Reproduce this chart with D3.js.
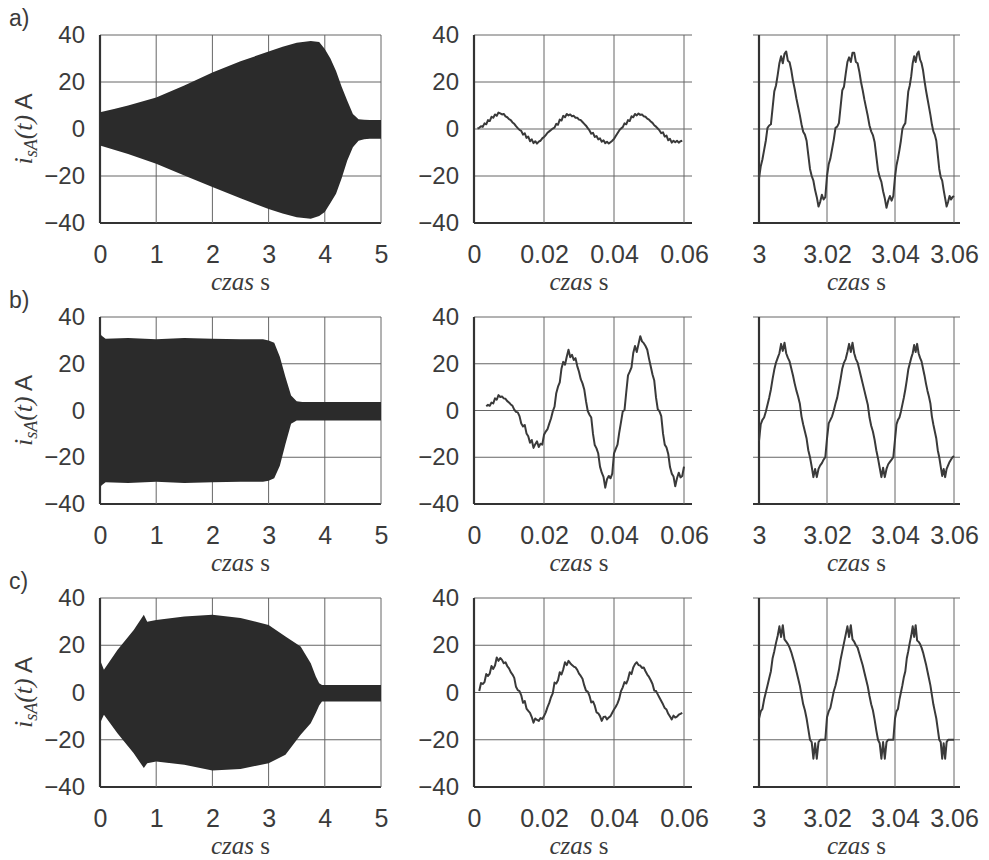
<!DOCTYPE html>
<html>
<head>
<meta charset="utf-8">
<script src="https://cdn.jsdelivr.net/npm/d3@7"></script>
<style>
  body { margin: 0; background: #fff; }
</style>
</head>
<body>
<script>
// ---- data ----
var panelLabels = ["a)", "b)", "c)"];
var yTicks = [-40, -20, 0, 20, 40];
var xTicksEnv = [0, 1, 2, 3, 4, 5];
var xTicksStart = [0, 0.02, 0.04, 0.06];
var xTicksLate = [3, 3.02, 3.04, 3.06];

// envelopes of the 0..5 s runs (time s, upper A, lower A)
var envTimeA = [0, 0.25, 0.5, 1, 1.5, 2, 2.5, 3, 3.25, 3.5, 3.75, 3.9, 4.0, 4.1, 4.2, 4.3, 4.4, 4.5, 4.6, 4.7, 4.8, 5];
var envUpA   = [7.1, 8.5, 10, 13.4, 18.5, 24, 28.8, 33, 35, 36.7, 37.5, 37, 34, 30, 24.7, 18, 12, 6.4, 4.2, 3.9, 3.8, 3.8];
var envLoA   = [-7, -8.8, -10.6, -14.8, -19.8, -24.7, -29.5, -34, -36, -37.5, -38.2, -37, -35.3, -31.5, -27.6, -21, -13.4, -7.8, -5, -4.4, -4.2, -4.2];

var envTimeB = [0, 0.03, 0.1, 0.5, 1, 1.5, 2, 2.5, 2.9, 3.0, 3.1, 3.2, 3.3, 3.4, 3.5, 3.6, 4, 5];
var envUpB   = [33, 32, 30.7, 31, 30.5, 31, 30.7, 30.5, 30.5, 30, 29, 23, 14.3, 6.4, 4, 3.6, 3.6, 3.6];
var envLoB   = [-33, -32, -30.7, -31, -30.5, -31, -30.7, -30.5, -30.5, -30, -29, -23.6, -14.3, -5.7, -4.3, -4.3, -4.3, -4.3];

var envTimeC = [0, 0.07, 0.31, 0.6, 0.78, 0.84, 1.0, 1.5, 2.0, 2.5, 3.0, 3.3, 3.57, 3.75, 3.84, 3.9, 3.95, 5];
var envUpC   = [13.8, 9.6, 18, 26.5, 32.9, 30, 30.7, 32.2, 32.9, 31.5, 28.6, 23.7, 19.5, 12.4, 6.8, 3.9, 3.2, 3.2];
var envLoC   = [-13, -9.4, -17.2, -25.7, -32, -29.9, -29.2, -30.6, -33, -32.4, -29.9, -26.4, -17.9, -13, -8.7, -5.5, -3.8, -3.8];

// waveforms sampled every 0.5 ms, first 60 ms (null = no trace)
var sampleStep = 0.0005;
var startA = [
  null, null, 0.2, 0.5, 1.2, 0.9, 2.4, 2.0, 3.8, 3.4,
  5.2, 4.8, 6.2, 5.6, 7.0, 6.6, 6.2, 6.4, 5.4, 5.0,
  4.2, 3.8, 2.8, 2.2, 1.2, 0.4, -0.4, -0.8, -2.4, -1.8,
  -3.8, -3.2, -5.2, -4.4, -6.0, -5.2, -6.2, -5.4, -5.0, -4.0,
  -3.4, -2.6, -1.6, -1.0, -0.4, 0.2, 0.6, 2.2, 1.8, 4.0,
  3.6, 5.6, 5.0, 6.4, 5.8, 6.2, 5.4, 5.6, 4.8, 4.8,
  4.0, 3.8, 3.0, 2.2, 1.4, 0.4, -0.6, -2.0, -1.6, -3.4,
  -3.0, -4.4, -4.0, -5.4, -4.8, -6.0, -5.4, -6.2, -5.6, -5.0,
  -4.2, -3.0, -1.8, -0.6, 0.2, 0.8, 2.4, 2.0, 3.8, 3.4,
  5.4, 5.0, 6.4, 5.8, 6.6, 6.0, 6.2, 5.4, 5.2, 4.4,
  4.0, 3.2, 2.6, 1.6, 1.0, 0.2, -0.6, -1.8, -1.4, -3.2,
  -2.8, -4.8, -4.2, -5.8, -5.0, -5.6, -5.0, -5.8, -5.2, -5.0
];
var startB = [
  null, null, null, null, null, null, null, 1.8, 2.4, 2.0,
  3.4, 3.0, 5.2, 4.6, 6.6, 5.8, 6.0, 5.2, 5.0, 4.0,
  3.4, 2.6, 2.0, 0.4, -0.6, -0.8, -2.4, -5.6, -6.8, -6.2,
  -9.8, -11.0, -13.8, -12.6, -16.0, -14.4, -13.2, -15.6, -14.2, -14.6,
  -10.4, -9.0, -8.0, -5.6, -3.4, -0.4, 1.6, 7.4, 10.2, 12.0,
  18.0, 20.8, 19.6, 23.0, 26.0, 22.8, 23.8, 21.6, 22.4, 19.0,
  16.6, 13.4, 11.6, 9.0, 4.0, -0.2, -1.8, -3.0, -10.0, -14.8,
  -16.2, -18.4, -24.0, -26.6, -28.4, -33.0, -29.4, -28.0, -29.0, -27.0,
  -18.4, -16.4, -14.6, -9.4, -5.0, -0.4, 0.2, 7.8, 15.0, 16.6,
  18.4, 24.6, 27.6, 25.0, 28.4, 31.8, 29.6, 28.8, 27.6, 26.0,
  22.2, 18.8, 15.4, 12.8, 5.6, 0.6, -0.4, -2.4, -9.8, -14.6,
  -15.8, -18.6, -24.2, -27.0, -28.2, -32.4, -29.0, -26.6, -28.6, -28.0,
  -24.0
];
var startC = [
  null, null, null, 0.6, 4.0, 3.6, 4.4, 7.8, 7.0, 8.0,
  11.2, 10.0, 11.4, 14.8, 13.4, 14.6, 13.8, 12.4, 12.8, 11.2,
  10.2, 8.6, 7.6, 6.2, 2.4, 1.0, 0.6, -1.2, -4.4, -3.6,
  -6.8, -7.8, -8.6, -10.4, -12.8, -11.0, -11.6, -12.0, -10.8, -11.2,
  -10.0, -8.4, -6.2, -4.4, -2.0, -0.4, 4.2, 3.8, 5.2, 8.6,
  7.6, 9.8, 12.8, 11.6, 13.4, 12.4, 11.6, 11.0, 10.6, 9.6,
  8.0, 7.0, 5.8, 3.0, 0.8, 0.4, -1.4, -4.2, -3.8, -5.6,
  -8.4, -8.8, -10.0, -12.0, -10.4, -10.2, -11.4, -10.6, -10.0, -8.6,
  -7.2, -6.0, -4.6, -2.6, 0.6, 2.2, 4.4, 3.8, 5.6, 8.6,
  7.8, 10.6, 12.0, 12.8, 11.6, 11.4, 10.4, 10.6, 9.0, 7.6,
  6.6, 5.2, 3.6, 0.8, 0.6, -0.8, -2.2, -3.6, -5.0, -6.6,
  -7.2, -9.0, -10.2, -11.4, -9.8, -10.6, -10.2, -9.4, -9.0, -8.6
];

// waveforms sampled every 0.5 ms from t = 3 s
var lateA = [
  -21, -16, -13, -9, -5, 0.5, 1.5, 2, 9, 16,
  18.5, 23, 28, 31, 28, 32, 33, 29, 28.4, 25,
  20.5, 17, 13, 9.5, 6, 2, -1.2, -2.4, -5, -11,
  -17, -20, -22, -26, -29, -33, -31, -28, -30, -29,
  -20, -15, -12.5, -8.5, -4.5, 0.5, 1, 2.5, 9.5, 16.5,
  18, 23.5, 28.5, 30.5, 28.5, 32.5, 32.5, 28.5, 28, 24.5,
  20, 16.5, 12.5, 9, 5.5, 1.5, -1, -2.6, -5.5, -11.5,
  -17.5, -20.5, -22.5, -26.5, -29.5, -33.5, -30.5, -28.5, -30.5, -28.5,
  -20.5, -15.5, -12.5, -9, -5, 0, 1.5, 2.5, 9, 16,
  18.5, 22.5, 28, 31, 28.5, 32, 33, 29.5, 28, 25,
  20.5, 16.5, 13, 9.5, 6, 2, -1, -2.5, -5, -11,
  -17, -20.5, -22, -26, -29.5, -33, -31, -28.5, -30, -29,
  -28.5
];
var lateB = [
  -13, -6, -4, -3, -0.5, 2.5, 5.5, 9, 13.5, 17.5,
  20.5, 22.5, 24.5, 28.5, 25.5, 29, 24.5, 22.5, 21, 18,
  15, 11.5, 8.5, 6, 3, -2.5, -6, -9, -12, -17,
  -20, -24, -28.5, -25, -28.5, -25, -23.5, -22.5, -21, -20,
  -12, -5.5, -4, -2.5, 0, 3, 5.5, 9.5, 13.5, 18,
  20.5, 22, 25, 28.5, 25, 29, 24.5, 22, 20.5, 17.5,
  14.5, 11.5, 8.5, 5.5, 2.5, -3, -6.5, -9, -12.5, -17,
  -20.5, -24.5, -28.5, -24.5, -28.5, -25, -23, -22, -21, -20,
  -12.5, -6, -4, -3, -0.5, 2.5, 5.5, 9, 13, 17.5,
  20, 22.5, 24.5, 28, 25, 28.5, 24.5, 22.5, 21, 18,
  15, 11.5, 8.5, 6, 3, -2.5, -6, -9, -12, -17,
  -20, -24, -28, -25, -28.5, -25, -23.5, -22, -21, -20,
  -19.5
];
var lateC = [
  -11, -8, -7, -3, 0, 3, 6, 9, 14.5, 17.5,
  21, 24, 28, 23.5, 28.5, 22.5, 21.5, 20.5, 19, 17,
  14.5, 12, 9, 6, 3, -1, -5, -7.5, -11, -15.5,
  -20, -21, -28, -21.5, -28, -21, -20, -20, -20, -20,
  -10.5, -8, -6.5, -3, 0.5, 3, 6, 9.5, 14, 17.5,
  21, 24.5, 28, 23.5, 28.5, 22.5, 21.5, 20, 19, 16.5,
  14, 11.5, 8.5, 5.5, 2.5, -1.5, -5, -7.5, -11.5, -16,
  -20, -21.5, -28, -21, -28, -21, -20, -20, -20, -20,
  -11, -8, -7, -3, 0, 3, 6.5, 9, 14.5, 17.5,
  21, 24, 28, 23.5, 28.5, 22, 21.5, 20.5, 19, 17,
  14.5, 12, 9, 6, 3, -1, -5, -8, -11, -15.5,
  -20, -21, -28, -21.5, -28, -21, -20, -20, -20, -20,
  -20
];

var envelopes = [
  {t: envTimeA, up: envUpA, lo: envLoA},
  {t: envTimeB, up: envUpB, lo: envLoB},
  {t: envTimeC, up: envUpC, lo: envLoC}
];
var starts = [startA, startB, startC];
var lates = [lateA, lateB, lateC];

// ---- layout ----
var W = 989, H = 860;
var rows = [{y0: 35, y1: 223}, {y0: 317, y1: 504}, {y0: 598, y1: 787}];
var inkText = "#3b3b3b", inkGrid = "#666", inkAxis = "#333";
var sans = "'Liberation Sans', Arial, sans-serif";
var serif = "'Liberation Serif', 'Times New Roman', serif";

var xEnv = d3.scaleLinear().domain([0, 5]).range([100, 381]);
var xStart = d3.scaleLinear().domain([0, 0.06]).range([474, 684]);
// the scan is slightly squeezed on the right, so the late window is polylinear
var xLate = d3.scaleLinear().domain(xTicksLate).range([759, 827, 895, 954]);

var svg = d3.select("body").append("svg")
  .attr("width", W).attr("height", H)
  .style("background", "#fff");

function frame(g, x, y, xTicks, extL, extR, withYLabels) {
  var xa = x(xTicks[0]), xb = x(xTicks[xTicks.length - 1]);
  // horizontal grid
  g.selectAll("line.h").data(yTicks).enter().append("line")
    .attr("x1", xa - extL).attr("x2", xb + extR)
    .attr("y1", function(d) { return y(d); })
    .attr("y2", function(d) { return y(d); })
    .attr("stroke", function(d) { return d == -40 ? inkAxis : inkGrid; })
    .attr("stroke-width", function(d) { return d == -40 ? 2.2 : 1; });
  // vertical grid
  g.selectAll("line.v").data(xTicks).enter().append("line")
    .attr("x1", function(d) { return x(d); })
    .attr("x2", function(d) { return x(d); })
    .attr("y1", y(-40)).attr("y2", y(40))
    .attr("stroke", function(d, i) { return i == 0 ? inkAxis : inkGrid; })
    .attr("stroke-width", function(d, i) { return i == 0 ? 2.2 : 1; });

  // tick labels through d3 axes
  var ax = g.append("g")
    .attr("transform", "translate(0," + y(-40) + ")")
    .call(d3.axisBottom(x).tickValues(xTicks).tickSize(0).tickPadding(22)
      .tickFormat(function(d) { return String(d); }));
  ax.select(".domain").remove();
  ax.attr("font-size", 25).attr("font-family", sans).attr("color", inkText);

  if (withYLabels) {
    var ay = g.append("g")
      .attr("transform", "translate(" + xa + ",0)")
      .call(d3.axisLeft(y).tickValues(yTicks).tickSize(0).tickPadding(15));
    ay.select(".domain").remove();
    ay.attr("font-size", 24).attr("font-family", sans).attr("color", inkText);
  }

  // "czas s"
  var lab = g.append("text")
    .attr("x", (xa + xb) / 2).attr("y", y(-40) + 67)
    .attr("text-anchor", "middle")
    .attr("font-family", serif).attr("font-size", 25).attr("fill", inkText);
  lab.append("tspan").attr("font-style", "italic").text("czas");
  lab.append("tspan").text(" s");
}

rows.forEach(function(r, i) {
  var y = d3.scaleLinear().domain([-40, 40]).range([r.y1, r.y0]);

  // panel letter
  svg.append("text")
    .attr("x", 9).attr("y", r.y0 - 9)
    .attr("font-family", sans).attr("font-size", 23).attr("fill", inkText)
    .text(panelLabels[i]);

  // y title  i_sA(t) A
  var yt = svg.append("text")
    .attr("transform", "translate(32," + ((r.y0 + r.y1) / 2) + ") rotate(-90)")
    .attr("text-anchor", "middle")
    .attr("font-family", serif).attr("font-size", 26).attr("fill", inkText);
  yt.append("tspan").attr("font-style", "italic").text("i");
  yt.append("tspan").attr("font-style", "italic").attr("font-size", 18).attr("dy", 5).text("sA");
  yt.append("tspan").attr("font-style", "italic").attr("dy", -5).text("(t)");
  yt.append("tspan").attr("font-family", sans).attr("font-size", 24).text(" A");

  // left: full run, drawn as the dense envelope
  var gEnv = svg.append("g");
  frame(gEnv, xEnv, y, xTicksEnv, 0, 0, true);
  var env = envelopes[i];
  var envData = env.t.map(function(t, k) { return {t: t, up: env.up[k], lo: env.lo[k]}; });
  gEnv.append("path")
    .datum(envData)
    .attr("fill", "#2b2b2b")
    .attr("d", d3.area()
      .x(function(d) { return xEnv(d.t); })
      .y0(function(d) { return y(d.lo); })
      .y1(function(d) { return y(d.up); }));

  var line = function(x) {
    return d3.line()
      .defined(function(d) { return d.v != null; })
      .x(function(d) { return x(d.t); })
      .y(function(d) { return y(d.v); });
  };

  // middle: first 60 ms
  var gStart = svg.append("g");
  frame(gStart, xStart, y, xTicksStart, 0, 8, true);
  gStart.append("path")
    .datum(starts[i].map(function(v, k) { return {t: k * sampleStep, v: v}; }))
    .attr("fill", "none").attr("stroke", "#3a3a3a").attr("stroke-width", 2)
    .attr("stroke-linejoin", "round")
    .attr("d", line(xStart));

  // right: 60 ms from 3 s
  var gLate = svg.append("g");
  frame(gLate, xLate, y, xTicksLate, 6, 6, false);
  gLate.append("path")
    .datum(lates[i].map(function(v, k) { return {t: 3 + k * sampleStep, v: v}; }))
    .attr("fill", "none").attr("stroke", "#3a3a3a").attr("stroke-width", 2)
    .attr("stroke-linejoin", "round")
    .attr("d", line(xLate));
});
</script>
</body>
</html>
